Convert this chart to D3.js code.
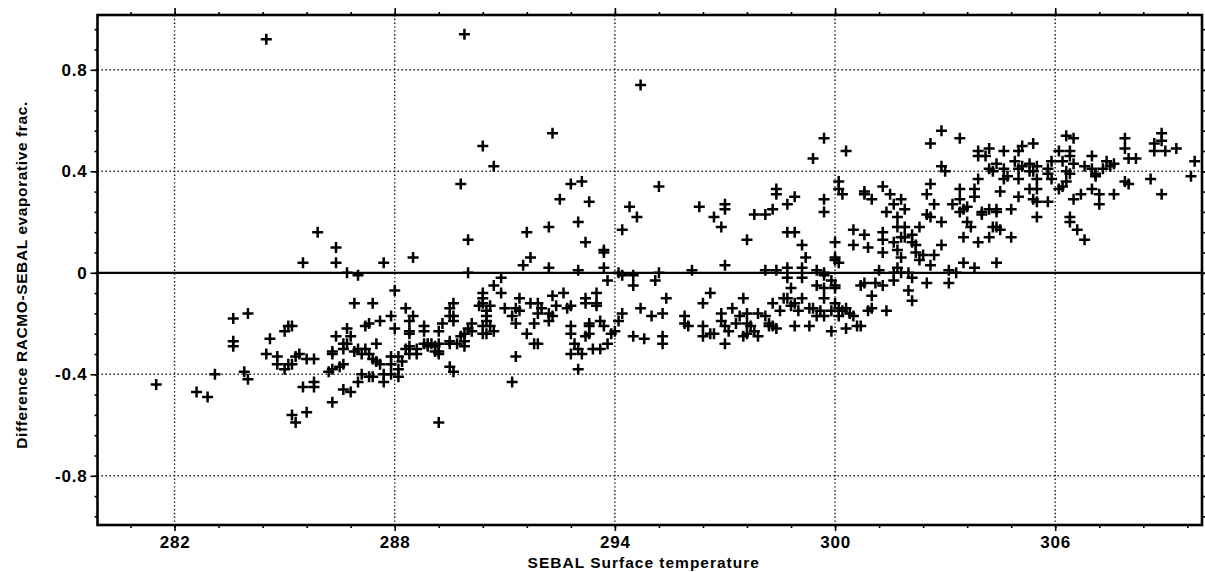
<!DOCTYPE html>
<html>
<head>
<meta charset="utf-8">
<script src="https://cdn.jsdelivr.net/npm/d3@7"></script>
<style>
  body { margin: 0; background: #fff; }
  text { font-family: "Liberation Sans", Arial, Helvetica, sans-serif; font-weight: bold; fill: #000; }
</style>
</head>
<body>
<svg id="scatter" width="1205" height="572"></svg>
<script>
// tick labels / titles
const xTickValues = [282, 288, 294, 300, 306];
const xTickLabels = ["282", "288", "294", "300", "306"];
const yTickValues = [-0.8, -0.4, 0, 0.4, 0.8];
const yTickLabels = ["-0.8", "-0.4", "0", "0.4", "0.8"];
const xTitle = "SEBAL Surface temperature";
const yTitle = "Difference RACMO-SEBAL evaporative frac.";

// [SEBAL surface temperature (K), RACMO - SEBAL evaporative fraction]
const samples = [
  [284.5, 0.92], [289.9, 0.94], [294.7, 0.74], [290.4, 0.50], [290.7, 0.42], [289.8, 0.35],
  [292.3, 0.55], [299.7, 0.53], [299.4, 0.45], [300.3, 0.48],
  // 282 - 286
  [283.6, -0.18], [284.0, -0.16], [283.6, -0.27], [283.6, -0.29], [284.6, -0.26], [284.5, -0.32],
  [284.8, -0.33], [284.8, -0.36], [285.0, -0.23], [285.1, -0.21], [285.3, -0.33], [285.0, -0.38],
  [285.1, -0.36], [283.1, -0.40], [283.9, -0.39], [284.0, -0.42], [281.5, -0.44], [282.6, -0.47],
  [282.9, -0.49], [285.2, -0.56], [285.3, -0.59],
  // 285 - 291
  [285.9, 0.16], [286.4, 0.10], [286.4, 0.04], [285.5, 0.04], [286.7, 0.00], [287.0, -0.01],
  [287.7, 0.04], [288.5, 0.06], [290.0, 0.13], [290.0, 0.00], [288.0, -0.07], [286.9, -0.12],
  [287.4, -0.12], [287.9, -0.17], [288.0, -0.22], [287.6, -0.19], [288.3, -0.14], [288.5, -0.17],
  [288.4, -0.19], [288.4, -0.23], [288.4, -0.24], [286.7, -0.22], [286.4, -0.25], [286.8, -0.25],
  [287.2, -0.21], [287.3, -0.20], [288.8, -0.21], [288.8, -0.23], [289.3, -0.20], [289.2, -0.23],
  [289.6, -0.12], [289.5, -0.14], [289.5, -0.17], [289.6, -0.17], [289.6, -0.19], [290.4, -0.08],
  [290.4, -0.10], [290.3, -0.13], [290.5, -0.15], [290.1, -0.20], [290.0, -0.22], [289.9, -0.24],
  [290.1, -0.23], [290.4, -0.24], [285.2, -0.21], [285.4, -0.32], [285.6, -0.34], [285.8, -0.34],
  [285.2, -0.36], [286.3, -0.32], [286.3, -0.31], [286.6, -0.28], [286.7, -0.28], [286.6, -0.30],
  [286.9, -0.31], [287.0, -0.30], [287.1, -0.32], [287.3, -0.32], [287.2, -0.30], [287.5, -0.28],
  [287.4, -0.34], [287.5, -0.35], [287.6, -0.36], [287.9, -0.33], [287.9, -0.36], [288.2, -0.35],
  [288.1, -0.33], [288.3, -0.30], [288.4, -0.29], [288.4, -0.32], [288.6, -0.30], [288.6, -0.32],
  [288.8, -0.28], [288.9, -0.29], [288.9, -0.28], [289.0, -0.28], [289.1, -0.29], [289.2, -0.28],
  [289.1, -0.31], [289.2, -0.32], [289.2, -0.31], [289.5, -0.28], [289.5, -0.27], [289.7, -0.28],
  [289.8, -0.25], [289.9, -0.27], [289.9, -0.29], [286.2, -0.39], [286.3, -0.38], [286.5, -0.37],
  [286.6, -0.36], [287.1, -0.40], [287.3, -0.41], [287.4, -0.41], [287.7, -0.40], [287.7, -0.43],
  [287.9, -0.40], [288.1, -0.38], [288.1, -0.41], [287.0, -0.43], [286.6, -0.46], [286.8, -0.47],
  [285.5, -0.45], [285.8, -0.43], [285.8, -0.45], [286.3, -0.51], [285.6, -0.55], [289.5, -0.37],
  [289.6, -0.39], [289.2, -0.59],
  // 290 - 296
  [292.8, 0.35], [293.1, 0.36], [292.5, 0.29], [293.3, 0.28], [295.2, 0.34], [294.4, 0.26],
  [294.6, 0.22], [294.2, 0.17], [293.0, 0.20], [291.6, 0.16], [292.2, 0.18], [293.2, 0.12],
  [293.7, 0.09], [293.7, 0.08], [291.7, 0.06], [291.5, 0.03], [292.2, 0.02], [293.0, 0.01],
  [293.7, 0.02], [294.1, 0.00], [294.2, -0.01], [293.8, -0.03], [294.5, -0.01], [294.5, -0.05],
  [295.1, -0.03], [295.2, 0.00], [295.4, -0.10], [295.3, -0.16], [290.9, -0.02], [290.7, -0.05],
  [290.9, -0.08], [290.4, -0.12], [291.4, -0.10], [290.6, -0.13], [290.5, -0.17], [290.5, -0.19],
  [290.6, -0.21], [290.4, -0.21], [290.7, -0.23], [290.5, -0.24], [291.0, -0.14], [291.3, -0.14],
  [291.2, -0.17], [291.3, -0.20], [291.4, -0.15], [291.6, -0.24], [291.8, -0.28], [291.9, -0.28],
  [291.3, -0.33], [291.2, -0.43], [291.7, -0.12], [291.9, -0.12], [292.0, -0.14], [291.9, -0.16],
  [292.2, -0.16], [292.3, -0.17], [291.8, -0.20], [292.2, -0.19], [292.3, -0.09], [292.4, -0.13],
  [292.6, -0.08], [292.7, -0.14], [292.8, -0.13], [293.2, -0.10], [293.2, -0.12], [293.5, -0.08],
  [293.5, -0.12], [293.5, -0.13], [292.8, -0.21], [292.8, -0.24], [292.9, -0.28], [292.8, -0.32],
  [293.0, -0.30], [293.1, -0.32], [293.0, -0.38], [293.3, -0.21], [293.3, -0.20], [293.2, -0.25],
  [293.3, -0.24], [293.6, -0.19], [293.7, -0.21], [293.4, -0.30], [293.6, -0.30], [293.8, -0.28],
  [293.9, -0.24], [294.0, -0.23], [294.1, -0.19], [294.2, -0.16], [294.7, -0.14], [294.5, -0.25],
  [294.8, -0.26], [295.0, -0.17], [295.3, -0.25], [295.3, -0.28],
  // 296 - 301
  [296.3, 0.26], [296.7, 0.22], [296.9, 0.18], [297.0, 0.25], [297.0, 0.27], [297.6, 0.13],
  [297.8, 0.23], [298.1, 0.23], [298.3, 0.25], [298.7, 0.27], [298.9, 0.30], [298.4, 0.33],
  [298.4, 0.31], [299.7, 0.29], [299.7, 0.24], [300.1, 0.36], [300.1, 0.33], [300.2, 0.31],
  [300.8, 0.32], [300.8, 0.31], [298.7, 0.16], [298.9, 0.16], [299.1, 0.11], [299.2, 0.06],
  [300.5, 0.17], [300.5, 0.11], [300.8, 0.15], [300.9, 0.10], [300.0, 0.12], [300.0, 0.06],
  [300.0, 0.05], [300.1, 0.04], [296.1, 0.01], [297.0, 0.03], [298.1, 0.01], [298.4, 0.01],
  [298.7, 0.02], [298.7, -0.02], [299.1, 0.02], [299.1, -0.02], [299.5, 0.01], [299.7, 0.00],
  [299.7, -0.01], [299.5, -0.05], [299.7, -0.06], [299.7, -0.10], [299.9, -0.03], [300.0, -0.05],
  [300.0, -0.06], [300.7, -0.05], [300.8, -0.04], [296.6, -0.08], [296.4, -0.12], [297.5, -0.10],
  [297.2, -0.14], [296.9, -0.16], [296.9, -0.19], [297.0, -0.21], [295.9, -0.17], [295.9, -0.20],
  [296.0, -0.21], [296.4, -0.21], [296.4, -0.25], [296.6, -0.24], [296.7, -0.24], [297.0, -0.28],
  [297.1, -0.23], [297.3, -0.20], [297.4, -0.17], [297.6, -0.16], [297.7, -0.21], [297.5, -0.25],
  [297.6, -0.24], [297.8, -0.23], [297.9, -0.25], [297.6, -0.20], [297.9, -0.16], [298.1, -0.17],
  [298.2, -0.20], [298.2, -0.21], [298.3, -0.21], [298.4, -0.22], [298.3, -0.12], [298.5, -0.15],
  [298.6, -0.10], [298.7, -0.10], [298.8, -0.06], [298.9, -0.12], [299.0, -0.15], [298.8, -0.13],
  [299.1, -0.10], [299.3, -0.14], [299.4, -0.14], [299.5, -0.17], [299.6, -0.15], [299.7, -0.17],
  [299.9, -0.15], [300.0, -0.12], [300.1, -0.14], [300.1, -0.17], [300.2, -0.15], [300.3, -0.14],
  [300.4, -0.16], [300.5, -0.17], [298.9, -0.21], [299.3, -0.21], [299.9, -0.23], [300.3, -0.22],
  [300.6, -0.21], [300.7, -0.21], [300.9, -0.15],
  // 301 - 305.5
  [302.9, 0.56], [302.6, 0.51], [303.4, 0.53], [302.9, 0.42], [303.0, 0.40], [303.9, 0.48],
  [303.9, 0.46], [304.2, 0.49], [304.1, 0.46], [304.6, 0.48], [305.0, 0.48], [305.1, 0.50],
  [305.4, 0.51], [304.2, 0.41], [304.3, 0.40], [304.4, 0.43], [304.6, 0.41], [304.7, 0.38],
  [304.6, 0.37], [304.9, 0.44], [305.0, 0.41], [305.1, 0.42], [305.3, 0.43], [305.3, 0.40],
  [305.4, 0.40], [305.0, 0.37], [305.5, 0.37], [305.3, 0.33], [305.4, 0.29], [305.5, 0.28],
  [305.5, 0.22], [304.5, 0.32], [305.0, 0.30], [304.8, 0.25], [303.9, 0.37], [303.8, 0.33],
  [303.8, 0.30], [303.4, 0.33], [303.4, 0.29], [303.2, 0.27], [303.4, 0.24], [303.5, 0.25],
  [303.6, 0.26], [303.6, 0.20], [303.7, 0.18], [304.0, 0.24], [304.2, 0.25], [304.4, 0.25],
  [304.4, 0.24], [304.0, 0.23], [304.3, 0.18], [304.4, 0.18], [304.5, 0.17], [304.8, 0.14],
  [304.2, 0.14], [303.9, 0.12], [303.5, 0.14], [302.6, 0.35], [302.5, 0.31], [302.7, 0.27],
  [302.5, 0.23], [302.6, 0.22], [302.9, 0.20], [302.3, 0.18], [302.9, 0.11], [302.7, 0.07],
  [302.4, 0.07], [302.2, 0.08], [302.3, 0.05], [302.6, 0.03], [301.0, 0.29], [301.3, 0.34],
  [301.5, 0.31], [301.6, 0.27], [301.8, 0.29], [301.9, 0.25], [301.4, 0.24], [301.7, 0.22],
  [301.7, 0.18], [301.9, 0.18], [301.3, 0.16], [301.3, 0.13], [301.3, 0.08], [301.6, 0.12],
  [301.7, 0.09], [301.8, 0.14], [301.9, 0.14], [302.1, 0.12], [302.1, 0.15], [302.2, 0.11],
  [301.8, 0.06], [301.7, 0.02], [301.6, 0.00], [301.8, 0.00], [302.0, 0.00], [302.1, -0.02],
  [301.2, 0.01], [301.6, -0.03], [303.1, 0.01], [303.3, 0.00], [303.5, 0.04], [303.8, 0.02],
  [304.4, 0.04], [301.1, -0.04], [301.3, -0.05], [301.0, -0.09], [302.0, -0.07], [302.1, -0.11],
  [302.5, -0.04], [303.1, -0.04], [301.0, -0.14], [301.4, -0.15],
  // 305.5 - 310
  [306.3, 0.54], [306.5, 0.53], [307.9, 0.53], [307.9, 0.49], [308.9, 0.55], [308.7, 0.51],
  [308.9, 0.52], [308.7, 0.48], [309.0, 0.48], [309.3, 0.49], [309.8, 0.44], [309.7, 0.38],
  [306.1, 0.48], [306.4, 0.48], [306.4, 0.46], [307.0, 0.46], [306.2, 0.44], [306.5, 0.43],
  [305.9, 0.44], [305.8, 0.41], [305.8, 0.39], [305.5, 0.42], [305.9, 0.37], [306.3, 0.40],
  [306.4, 0.39], [306.3, 0.36], [306.8, 0.42], [307.0, 0.41], [307.1, 0.39], [307.3, 0.41],
  [307.4, 0.44], [307.6, 0.43], [307.5, 0.42], [307.1, 0.38], [308.0, 0.45], [308.2, 0.45],
  [307.9, 0.36], [308.0, 0.35], [308.6, 0.37], [308.9, 0.31], [306.1, 0.33], [306.2, 0.34],
  [305.5, 0.33], [305.8, 0.28], [306.5, 0.29], [306.7, 0.31], [307.0, 0.33], [307.2, 0.31],
  [307.2, 0.27], [307.6, 0.31], [306.4, 0.22], [306.4, 0.20], [306.6, 0.17], [306.8, 0.13]
];

const svg = d3.select("#scatter"),
    width = +svg.attr("width"),
    height = +svg.attr("height"),
    margin = { top: 15, right: 3, bottom: 47, left: 97.5 },
    plotW = width - margin.left - margin.right,
    plotH = height - margin.top - margin.bottom;

const chart = svg.append("g")
    .attr("transform", `translate(${margin.left},${margin.top})`);

// Scales (axis box slightly wider than the labelled ticks, as in the scan)
const x = d3.scaleLinear().domain([279.9, 310]).range([0, plotW]);
const y = d3.scaleLinear().domain([-0.994, 1.016]).range([plotH, 0]);

// minor tick positions: 5 per major interval
const xMinor = d3.range(-4, 26).map(i => 280.8 + i * 1.2).filter(v => v > 279.95 && v < 310);
const yMinor = d3.range(-12, 13).map(i => i * 0.08);

// dotted grid
chart.append("g")
    .selectAll("line")
    .data(xTickValues)
    .join("line")
    .attr("x1", d => x(d)).attr("x2", d => x(d))
    .attr("y1", 0).attr("y2", plotH)
    .attr("stroke", "#111")
    .attr("stroke-width", 1.4)
    .attr("stroke-dasharray", "1.4,2.4");

chart.append("g")
    .selectAll("line")
    .data(yTickValues.filter(v => v !== 0))
    .join("line")
    .attr("x1", 0).attr("x2", plotW)
    .attr("y1", d => y(d)).attr("y2", d => y(d))
    .attr("stroke", "#111")
    .attr("stroke-width", 1.4)
    .attr("stroke-dasharray", "1.4,2.6");

// zero line
chart.append("line")
    .attr("x1", 0).attr("x2", plotW)
    .attr("y1", y(0)).attr("y2", y(0))
    .attr("stroke", "#000")
    .attr("stroke-width", 2.2);

// axes: minor + major ticks on all four sides
function styleAxis(g) {
    g.select(".domain").remove();
    g.selectAll("line").attr("stroke", "#000").attr("stroke-width", 1.6);
}
const noLabel = () => "";

chart.append("g").attr("transform", `translate(0,${plotH})`)
    .call(d3.axisBottom(x).tickValues(xMinor).tickSize(3).tickFormat(noLabel)).call(styleAxis);
chart.append("g")
    .call(d3.axisTop(x).tickValues(xMinor).tickSize(3).tickFormat(noLabel)).call(styleAxis);
chart.append("g")
    .call(d3.axisLeft(y).tickValues(yMinor).tickSize(3).tickFormat(noLabel)).call(styleAxis);
chart.append("g").attr("transform", `translate(${plotW},0)`)
    .call(d3.axisRight(y).tickValues(yMinor).tickSize(3).tickFormat(noLabel)).call(styleAxis);

const xAxis = chart.append("g").attr("transform", `translate(0,${plotH})`)
    .call(d3.axisBottom(x).tickValues(xTickValues).tickSize(6).tickPadding(5)
        .tickFormat((d, i) => xTickLabels[i]))
    .call(styleAxis);
chart.append("g")
    .call(d3.axisTop(x).tickValues(xTickValues).tickSize(7).tickFormat(noLabel)).call(styleAxis);
const yAxis = chart.append("g")
    .call(d3.axisLeft(y).tickValues(yTickValues).tickSize(7).tickPadding(3)
        .tickFormat((d, i) => yTickLabels[i]))
    .call(styleAxis);
chart.append("g").attr("transform", `translate(${plotW},0)`)
    .call(d3.axisRight(y).tickValues(yTickValues).tickSize(6).tickFormat(noLabel)).call(styleAxis);

[xAxis, yAxis].forEach(g => g.selectAll("text")
    .attr("fill", "#000")
    .style("font-family", "'Liberation Sans', Arial, sans-serif")
    .style("font-weight", "bold")
    .style("font-size", "17px")
    .style("letter-spacing", "0.8px"));

// frame
chart.append("rect")
    .attr("x", 0).attr("y", 0)
    .attr("width", plotW).attr("height", plotH)
    .attr("fill", "none")
    .attr("stroke", "#000")
    .attr("stroke-width", 2.6);

// plus markers
chart.append("g")
    .selectAll("path")
    .data(samples)
    .join("path")
    .attr("transform", d => `translate(${x(d[0])},${y(d[1])})`)
    .attr("d", "M-5.5,0H5.5M0,-5.5V5.5")
    .attr("fill", "none")
    .attr("stroke", "#000")
    .attr("stroke-width", 2.5);

// axis titles
svg.append("text")
    .attr("x", margin.left + plotW / 2 - 6)
    .attr("y", 568)
    .attr("text-anchor", "middle")
    .style("font-size", "15.5px")
    .style("letter-spacing", "1px")
    .text(xTitle);

svg.append("text")
    .attr("transform", `translate(27,${margin.top + plotH / 2 + 5}) rotate(-90)`)
    .attr("text-anchor", "middle")
    .style("font-size", "15.5px")
    .style("letter-spacing", "0.6px")
    .text(yTitle);
</script>
</body>
</html>
